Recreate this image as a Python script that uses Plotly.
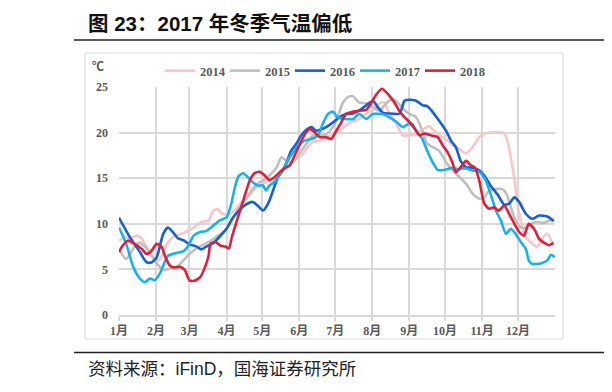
import plotly.graph_objects as go

# ---- data (day-of-year, °C) ----
month_days = [0, 31, 59, 90, 120, 151, 181, 212, 243, 273, 304, 334]
month_labels = ["1月", "2月", "3月", "4月", "5月", "6月", "7月", "8月", "9月", "10月", "11月", "12月"]
y_ticks = [0, 5, 10, 15, 20, 25]

d2014 = [0, 5, 9, 14.6, 18.8, 23, 27, 33, 37, 41, 46.7, 52.3, 58, 63, 69, 75, 79, 83, 86, 91.6, 95.5, 100, 104,
         109, 115, 120.6, 126, 132, 136, 140, 144, 148.5, 154, 158, 162, 168, 173.5, 179, 184.6, 190, 195.7, 201,
         207, 212.5, 218, 222, 226.4, 232, 237.5, 243, 248.7, 254, 259.6, 264, 268, 273.8, 279.4, 285, 290.5, 296,
         301.6, 305.8, 322.5, 335, 338.7, 340.6, 346, 350, 354, 358.6, 363]
t2014 = [8.15, 8.55, 8.4, 8.7, 8.4, 7.4, 6.5, 5.95, 6.85, 7.95, 8.7, 8.9, 9.25, 9.6, 10.2, 10.35, 11.45, 11.6, 11.1,
         11.0, 11.3, 12.0, 12.55, 13.1, 14.0, 14.4, 14.75, 15.1, 15.85, 16.2, 16.75, 17.1, 17.7, 18.4, 18.95, 19.1,
         19.5, 19.7, 20.2, 20.8, 21.2, 21.5, 22.05, 22.5, 23.2, 23.3, 22.1, 21.0, 19.7, 19.7, 19.8, 20.3, 20.7, 20.2,
         19.7, 19.3, 18.6, 18.2, 17.7, 18.4, 19.5, 19.9, 19.9, 11.1, 9.1, 8.55, 7.8, 7.45, 8.35, 8.9, 7.8]

d2015 = [0, 6, 12.5, 16.7, 21, 25, 29, 34, 38, 44, 49.5, 55, 60.6, 66, 72, 77, 83, 88.6, 94, 100, 105, 111, 116,
         120.6, 126, 132, 136, 140, 145.6, 151, 157, 162, 168, 173.5, 179, 183, 187.5, 191.5, 195.7, 201, 207,
         212.5, 218, 223.6, 229, 234, 238, 243, 248.7, 254, 258, 262.6, 268, 273.8, 279.4, 285, 290.5, 296, 301.6,
         305.8, 310, 315.5, 321, 325, 328, 332, 336.4, 340.6, 345, 350, 356, 360, 364]
t2015 = [7.25, 6.15, 7.4, 7.95, 7.6, 7.1, 6.15, 5.3, 4.95, 5.1, 5.4, 6.15, 6.85, 7.4, 7.8, 8.15, 8.7, 9.25, 10.35,
         11.65, 12.55, 13.65, 14.4, 14.75, 15.3, 16.2, 17.3, 16.9, 16.8, 17.7, 18.8, 19.7, 19.7, 19.8, 20.6, 21.7,
         23.3, 23.9, 24.0, 23.3, 23.2, 22.8, 22.4, 23.2, 23.7, 23.2, 22.6, 22.05, 21.7, 20.2, 18.8, 18.4, 18.0,
         16.75, 15.85, 15.1, 14.4, 13.3, 12.75, 12.9, 13.65, 13.8, 13.8, 13.1, 11.8, 10.35, 9.6, 9.6, 10.0, 10.2,
         10.1, 10.35, 10.4]

d2016 = [0, 9, 17.5, 23, 27, 31.5, 37, 41, 45, 49.5, 54, 59, 65, 69, 73, 79, 84, 90, 95.5, 100, 104, 109, 112, 116,
         120.6, 124.8, 129, 133, 137, 140, 144, 148.5, 152.6, 156.8, 161, 165, 168, 173.5, 179, 184.6, 190, 196,
         201, 207, 212.5, 216.6, 220.8, 226, 235, 239, 243, 248.7, 254, 258, 262.6, 268, 273.8, 278, 282, 286,
         290.5, 296, 301.6, 305.8, 311, 317, 322.5, 326.6, 331, 335, 340.6, 346, 351.7, 358.6, 364]
t2016 = [10.65, 8.55, 6.9, 5.8, 5.75, 6.3, 8.9, 9.6, 9.1, 8.4, 8.2, 7.75, 7.5, 7.2, 7.5, 7.9, 8.55, 9.45, 10.7,
         11.4, 11.9, 12.3, 12.4, 12.0, 11.45, 12.2, 13.65, 15.1, 15.85, 16.6, 18.0, 18.8, 19.7, 20.3, 20.6, 20.2,
         20.3, 20.6, 21.1, 21.7, 22.05, 22.1, 22.4, 23.0, 23.5, 22.8, 22.2, 22.1, 22.1, 23.5, 23.6, 23.5, 23.0,
         22.9, 22.25, 21.3, 20.2, 19.1, 18.4, 16.9, 16.2, 16.15, 15.85, 15.3, 14.2, 13.2, 12.1, 12.2, 12.9, 12.4,
         11.1, 10.55, 10.9, 10.8, 10.3]

d2017 = [0, 6, 12, 17.5, 21.7, 26, 30, 34, 37, 41, 48, 54, 58, 62.5, 68, 73, 79, 84, 90, 94, 97, 100, 104, 108,
         112, 116, 120.5, 123, 126, 130, 133, 137, 141, 145.6, 150, 155, 161, 166.5, 170.7, 175, 179, 183, 189,
         196, 201, 207, 212.5, 221, 226, 232, 237.5, 243, 248.7, 254, 258, 262.6, 266.8, 272, 278, 283.5, 289,
         296, 301.6, 307, 311, 315.5, 319.7, 324, 328, 332, 336.4, 340.6, 343, 346, 353, 358.6, 361.5, 364.8]
t2017 = [9.6, 7.8, 5.25, 4.0, 3.6, 4.0, 3.8, 4.5, 5.4, 6.5, 6.8, 7.0, 7.6, 8.7, 9.1, 9.2, 9.8, 10.35, 10.7, 12.2,
         14.0, 15.2, 15.55, 15.1, 14.55, 14.2, 14.2, 13.65, 14.2, 14.55, 15.1, 15.85, 16.9, 17.85, 18.6, 19.1, 19.3,
         19.7, 21.0, 22.05, 22.3, 21.7, 21.5, 21.5, 22.05, 21.5, 22.05, 22.0, 21.7, 21.2, 20.6, 21.0, 20.2, 19.3,
         18.0, 16.75, 15.9, 15.9, 16.1, 16.0, 16.1, 15.85, 15.7, 14.75, 13.3, 11.45, 10.35, 8.9, 9.45, 8.9, 8.0,
         7.25, 6.0, 5.6, 5.65, 6.0, 6.6, 6.35]

d2018 = [0, 3, 7.5, 13, 19, 23, 27, 31.5, 35.6, 38.4, 42.6, 46.7, 51, 55, 59, 63, 68, 72, 75, 76.6, 80.8, 85, 89,
         92, 94.5, 98.7, 104, 109.5, 113.6, 117.8, 122, 126, 130, 134.5, 138.7, 143, 147, 151, 155, 159.6, 163.7,
         168, 173.5, 177.7, 181.9, 186, 190, 196, 201, 207, 211, 215, 220, 225, 230.6, 235, 239, 246, 251.5, 255.6,
         261, 266.8, 271, 275, 279, 282, 286, 290.5, 294.6, 298, 301.6, 305.8, 310, 314, 318, 322.5, 326.6, 331,
         335, 339, 343, 347.5, 351.7, 356, 360, 363.7]
t2018 = [6.9, 7.6, 8.15, 7.8, 7.25, 6.7, 7.0, 7.8, 7.5, 6.5, 5.4, 5.2, 5.3, 4.95, 3.8, 3.75, 4.15, 5.25, 6.5, 7.8,
         8.0, 7.6, 7.5, 7.3, 8.55, 10.35, 12.55, 14.75, 15.55, 15.7, 15.3, 14.8, 15.1, 15.65, 16.1, 16.4, 17.5, 18.6,
         19.7, 20.4, 20.05, 19.5, 19.5, 19.3, 20.2, 21.1, 22.05, 22.3, 22.4, 22.5, 23.2, 24.1, 24.8, 24.25, 23.3,
         22.3, 21.7, 20.8, 19.7, 19.9, 19.7, 19.5, 18.6, 17.85, 16.75, 15.65, 16.2, 16.9, 16.4, 16.15, 14.75, 12.2,
         11.65, 11.8, 11.45, 12.0, 11.1, 10.0, 9.1, 8.7, 10.0, 9.45, 8.35, 7.9, 7.65, 7.9]

series = [
    ("2014", d2014, t2014, "#F9C5C8"),
    ("2015", d2015, t2015, "#BFBFBF"),
    ("2016", d2016, t2016, "#1460D6"),
    ("2017", d2017, t2017, "#17B2EE"),
    ("2018", d2018, t2018, "#E11E3A"),
]

# page is rendered with an 8px body margin, so work in page pixels and subtract it
OFF = 8
W, H = 612 - OFF, 392 - OFF
L, R, T, B = 119, 555, 87, 315  # plot area in page pixels


def px(x):
    return (x - L) / (R - L)


def py(y):
    return (B - y) / (B - T)


serif = "Liberation Serif, Times New Roman, Noto Sans CJK SC, serif"
gray_txt = "#595959"

fig = go.Figure()
legend_ids = ["legend", "legend2", "legend3", "legend4", "legend5"]
for (name, xs, ys, col), lg in zip(series, legend_ids):
    fig.add_trace(go.Scatter(x=xs, y=ys, name=name, mode="lines", legend=lg,
                             line=dict(color=col, width=2.6, shape="spline", smoothing=0.6)))

legend_style = dict(orientation="h", xanchor="left", yanchor="middle", y=py(71),
                    font=dict(family=serif, size=12.5, color=gray_txt, weight="bold"),
                    itemwidth=30, bgcolor="rgba(0,0,0,0)")
legend_layout = {}
for i, lg in enumerate(legend_ids):
    legend_layout[lg] = dict(legend_style, x=px(160 + 65 * i))

fig.update_layout(
    width=W, height=H,
    margin=dict(l=L - OFF, r=W - (R - OFF), t=T - OFF, b=H - (B - OFF), pad=0),
    paper_bgcolor="white", plot_bgcolor="white",
    showlegend=True,
    xaxis=dict(range=[0, 365], tickvals=month_days, ticktext=month_labels,
               showgrid=True, gridcolor="#D9D9D9", gridwidth=1.5,
               showline=True, linecolor="#D9D9D9", linewidth=1.5,
               ticks="outside", ticklen=4, tickcolor="#D9D9D9", tickwidth=1.5,
               tickfont=dict(family=serif, size=12, color=gray_txt, weight="bold"),
               zeroline=False, fixedrange=True),
    yaxis=dict(range=[0, 25], tickvals=y_ticks, showgrid=True, gridcolor="#D9D9D9", gridwidth=1.5,
               zeroline=False, showline=False, ticks="", ticklabelstandoff=10,
               tickfont=dict(family=serif, size=12, color=gray_txt, weight="bold"), fixedrange=True),
    **legend_layout,
)

shapes = [
    # chart frame
    dict(type="rect", xref="paper", yref="paper", x0=px(85), x1=px(563), y0=py(339), y1=py(53),
         line=dict(color="#D9D9D9", width=1), layer="below"),
    # title rule and source rule
    dict(type="line", xref="paper", yref="paper", x0=px(74), x1=px(620), y0=py(40), y1=py(40),
         line=dict(color="#222222", width=1.5)),
    dict(type="line", xref="paper", yref="paper", x0=px(74), x1=px(620), y0=py(352.5), y1=py(352.5),
         line=dict(color="#222222", width=1.5)),
    # neighbouring panel edge
    dict(type="line", xref="paper", yref="paper", x0=px(607), x1=px(607), y0=py(339), y1=py(53),
         line=dict(color="#D9D9D9", width=1)),
]
fig.update_layout(shapes=shapes)

annotations = [
    dict(text="<b>图 23：2017 年冬季气温偏低</b>", xref="paper", yref="paper", x=px(86), y=py(23),
         xanchor="left", yanchor="middle", showarrow=False,
         font=dict(family="Liberation Sans, Noto Sans CJK SC, sans-serif", size=20.5, color="#111111")),
    dict(text="资料来源：iFinD，国海证券研究所", xref="paper", yref="paper", x=px(86), y=py(369),
         xanchor="left", yanchor="middle", showarrow=False,
         font=dict(family="Liberation Sans, Noto Sans CJK SC, sans-serif", size=17.5, color="#222222")),
    dict(text="℃", xref="paper", yref="paper", x=px(97.5), y=py(67), xanchor="center", yanchor="middle",
         showarrow=False, font=dict(family=serif, size=12, color=gray_txt, weight="bold")),
    dict(text="<b>图</b>", xref="paper", yref="paper", x=px(605), y=py(23), xanchor="left", yanchor="middle",
         showarrow=False, font=dict(family="Noto Sans CJK SC, sans-serif", size=20, color="#111111")),
]
fig.update_layout(annotations=annotations)

fig.write_html("out.html")
